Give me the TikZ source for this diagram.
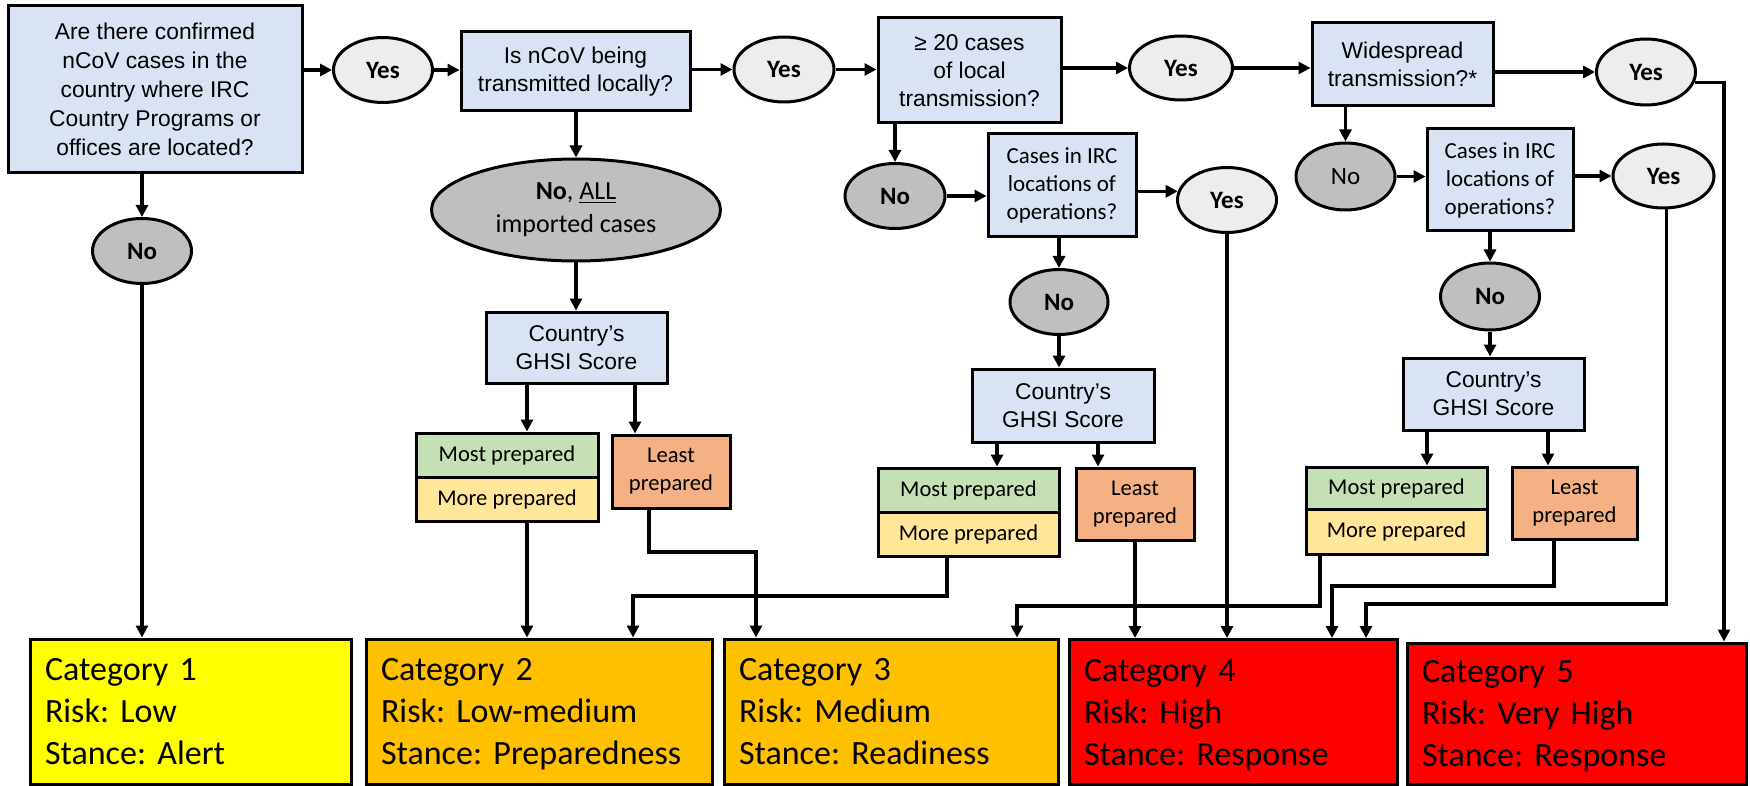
\documentclass[tikz,border=0pt]{standalone}
\usepackage{fontspec}
\usetikzlibrary{shapes.geometric,arrows.meta,calc}
\newfontfamily\arialf{Liberation Sans}
\newfontfamily\calf{Carlito}
\frenchspacing
\definecolor{qblue}{HTML}{DAE3F3}
\definecolor{yesfill}{HTML}{EDEDED}
\definecolor{nofill}{HTML}{BFBFBF}
\definecolor{mostc}{HTML}{C5E0B4}
\definecolor{morec}{HTML}{FFE699}
\definecolor{leastc}{HTML}{F4B183}
\definecolor{cyel}{HTML}{FFFF00}
\definecolor{corange}{HTML}{FFC000}
\definecolor{cred}{HTML}{FF0000}
\tikzset{
  base/.style={draw, line width=1.5pt, inner sep=0pt, align=center},
  qbox/.style={base, rectangle, fill=qblue, font=\arialf\fontsize{11.4pt}{14pt}\selectfont},
  qcal/.style={base, rectangle, fill=qblue, font=\calf\fontsize{11.5pt}{14pt}\selectfont},
  yesn/.style={base, ellipse, fill=yesfill, minimum width=49.5pt, minimum height=32.5pt, font=\calf\bfseries\fontsize{12.5pt}{14pt}\selectfont},
  non/.style={base, ellipse, fill=nofill, minimum width=49.5pt, minimum height=32.5pt, font=\calf\bfseries\fontsize{12.5pt}{14pt}\selectfont},
  prep/.style={base, rectangle, font=\calf\fontsize{11.3pt}{14pt}\selectfont},
  catbox/.style={base, rectangle, align=left, inner xsep=7.5pt, text width=#1, minimum height=72.5pt, font=\calf\fontsize{17pt}{21pt}\selectfont},
  arr/.style={line width=1.6pt, -{Triangle[length=6pt,width=6pt]}},
}
\begin{document}
\begin{tikzpicture}[x=0.5pt,y=-0.5pt]
\useasboundingbox (0,0) rectangle (1750,786);
% column 1
\node[qbox, minimum width=147pt, minimum height=83.5pt, font=\arialf\fontsize{11.4pt}{14.5pt}\selectfont] (q1) at (155,89.5)
  {Are there confirmed\\nCoV cases in the\\country where IRC\\Country Programs or\\offices are located?};
\node[yesn] (y1) at (383,70) {Yes};
\node[non] (n1) at (142,251) {No};
% column 2
\node[qbox, minimum width=114.5pt, minimum height=39.5pt] (q2) at (575.5,71.5) {Is nCoV being\\transmitted locally?};
\node[yesn, minimum width=50pt] (y2) at (784,69.5) {Yes};
\node[base, ellipse, fill=nofill, minimum width=144.5pt, minimum height=51pt, font=\calf\fontsize{13pt}{16.5pt}\selectfont] (nall) at (576,210)
  {\textbf{No}, \underline{ALL}\\imported cases};
\node[qbox, minimum width=90.5pt, minimum height=35.5pt] (g1) at (576.5,347.5) {Country’s\\GHSI Score};
\node[prep, fill=mostc, minimum width=91pt, minimum height=22pt] (most1) at (507,455) {Most prepared};
\node[prep, fill=morec, minimum width=91pt, minimum height=22pt] (more1) at (507,499) {More prepared};
\node[prep, fill=leastc, minimum width=59pt, minimum height=36.5pt] (least1) at (671,471.5) {Least\\prepared};
% column 3
\node[qbox, minimum width=91.5pt, minimum height=52.5pt] (q3) at (969.5,70.5) {≥ 20 cases\\of local\\transmission?};
\node[yesn, minimum width=51.5pt, minimum height=32pt] (y3) at (1181,68) {Yes};
\node[non, minimum width=50pt] (n3) at (895,196) {No};
\node[qcal, minimum width=74pt, minimum height=51.5pt] (q5) at (1062,185.5) {Cases in IRC\\locations of\\operations?};
\node[yesn] (y4) at (1227,200) {Yes};
\node[non, minimum width=49pt] (n4) at (1059,302) {No};
\node[qbox, minimum width=91pt, minimum height=36.5pt] (g2) at (1063,405.5) {Country’s\\GHSI Score};
\node[prep, fill=mostc, minimum width=90.5pt, minimum height=22pt] (most2) at (968.5,490) {Most prepared};
\node[prep, fill=morec, minimum width=90.5pt, minimum height=22pt] (more2) at (968.5,534) {More prepared};
\node[prep, fill=leastc, minimum width=59pt, minimum height=36pt] (least2) at (1135,504) {Least\\prepared};
% column 4
\node[qbox, minimum width=90.5pt, minimum height=41.5pt] (q4) at (1402.5,64.5) {Widespread\\transmission?*};
\node[yesn, minimum height=33pt] (y5) at (1646,72) {Yes};
\node[non, minimum height=33.5pt, font=\calf\fontsize{12.5pt}{14pt}\selectfont] (n5) at (1345.5,176.5) {No};
\node[qcal, minimum width=73pt, minimum height=51pt] (q6) at (1500,180) {Cases in IRC\\locations of\\operations?};
\node[yesn, minimum width=50.5pt, minimum height=32pt] (y6) at (1663.5,176) {Yes};
\node[non, minimum height=33.5pt] (n6) at (1490,296.5) {No};
\node[qbox, minimum width=90.5pt, minimum height=36pt] (g3) at (1493.5,394) {Country’s\\GHSI Score};
\node[prep, fill=mostc, minimum width=90.5pt, minimum height=21pt] (most3) at (1396.5,488) {Most prepared};
\node[prep, fill=morec, minimum width=90.5pt, minimum height=22.5pt] (more3) at (1396.5,531.5) {More prepared};
\node[prep, fill=leastc, minimum width=62.5pt, minimum height=36pt] (least3) at (1574.5,503) {Least\\prepared};
% categories
\node[catbox=145.5pt, fill=cyel] (cat1) at (190.5,711.5) {Category 1\\Risk: Low\\\smash{Stance: Alert}};
\node[catbox=158pt, fill=corange] (cat2) at (539,711.5) {Category 2\\Risk: Low-medium\\\smash{Stance: Preparedness}};
\node[catbox=152pt, fill=corange] (cat3) at (891,711.5) {Category 3\\Risk: Medium\\\smash{Stance: Readiness}};
\node[catbox=149pt, fill=cred] (cat4) at (1233,712) {Category 4\\Risk: High\\\smash{Stance: Response}};
\node[catbox=154.5pt, fill=cred, minimum height=70.5pt] (cat5) at (1576.5,713.5) {Category 5\\Risk: Very High\\\smash{Stance: Response}};
% connectors: top row
\draw[arr] (q1.east |- y1.west) -- (y1.west);
\draw[arr] (y1.east) -- (y1.east -| q2.west);
\draw[arr] (q2.east |- y2.west) -- (y2.west);
\draw[arr] (y2.east) -- (y2.east -| q3.west);
\draw[arr] (q3.east |- y3.west) -- (y3.west);
\draw[arr] (y3.east) -- (y3.east -| q4.west);
\draw[arr] (q4.east |- y5.west) -- (y5.west);
\coordinate (y5k) at (1724,0);
\draw[arr] (y5.-12) -| (y5k |- cat5.north);
% column 1
\draw[arr] (q1.south -| n1.north) -- (n1.north);
\draw[arr] (n1.south) -- (n1.south |- cat1.north);
% column 2
\draw[arr] (q2.south -| nall.north) -- (nall.north);
\draw[arr] (nall.south) -- (nall.south |- g1.north);
\coordinate (g1a) at ($(g1.south)+(-49.5,0)$);
\coordinate (g1b) at ($(g1.south)+(58.5,0)$);
\draw[arr] (g1a) -- (g1a |- most1.north);
\draw[arr] (g1b) -- (g1b |- least1.north);
\coordinate (m1a) at ($(more1.south)+(20,0)$);
\draw[arr] (m1a) -- (m1a |- cat2.north);
\coordinate (l1a) at ($(least1.south)+(-22,0)$);
\coordinate (l1k) at (756,552);
\draw[arr] (l1a) |- (l1k) -- (l1k |- cat3.north);
% column 3
\draw[arr] (q3.south -| n3.north) -- (n3.north);
\draw[arr] (n3.east) -- (n3.east -| q5.west);
\draw[arr] (q5.east |- y4.170) -- (y4.170);
\draw[arr] (y4.south) -- (y4.south |- cat4.north);
\draw[arr] (q5.south -| n4.north) -- (n4.north);
\draw[arr] (n4.south) -- (n4.south |- g2.north);
\coordinate (g2a) at ($(g2.south)+(-66,0)$);
\coordinate (g2b) at ($(g2.south)+(35,0)$);
\draw[arr] (g2a) -- (g2a |- most2.north);
\draw[arr] (g2b) -- (g2b |- least2.north);
\coordinate (m2a) at ($(more2.south)+(-21.5,0)$);
\coordinate (m2k) at (633,596);
\draw[arr] (m2a) |- (m2k) -- (m2k |- cat2.north);
\draw[arr] (least2.south) -- (least2.south |- cat4.north);
% column 4
\draw[arr] (q4.south -| n5.north) -- (n5.north);
\draw[arr] (n5.east) -- (n5.east -| q6.west);
\draw[arr] (q6.east |- y6.west) -- (y6.west);
\coordinate (y6k) at (1366,604);
\draw[arr] (y6.-85) |- (y6k) -- (y6k |- cat4.north);
\draw[arr] (q6.south -| n6.north) -- (n6.north);
\draw[arr] (n6.south) -- (n6.south |- g3.north);
\coordinate (g3a) at ($(g3.south)+(-66.5,0)$);
\coordinate (g3b) at ($(g3.south)+(54.5,0)$);
\draw[arr] (g3a) -- (g3a |- most3.north);
\draw[arr] (g3b) -- (g3b |- least3.north);
\coordinate (m3a) at ($(more3.south)+(-76.5,0)$);
\coordinate (m3k) at (1017,606);
\draw[arr] (m3a) |- (m3k) -- (m3k |- cat3.north);
\coordinate (l3a) at ($(least3.south)+(-20.5,0)$);
\coordinate (l3k) at (1332,586);
\draw[arr] (l3a) |- (l3k) -- (l3k |- cat4.north);
\end{tikzpicture}
\end{document}
